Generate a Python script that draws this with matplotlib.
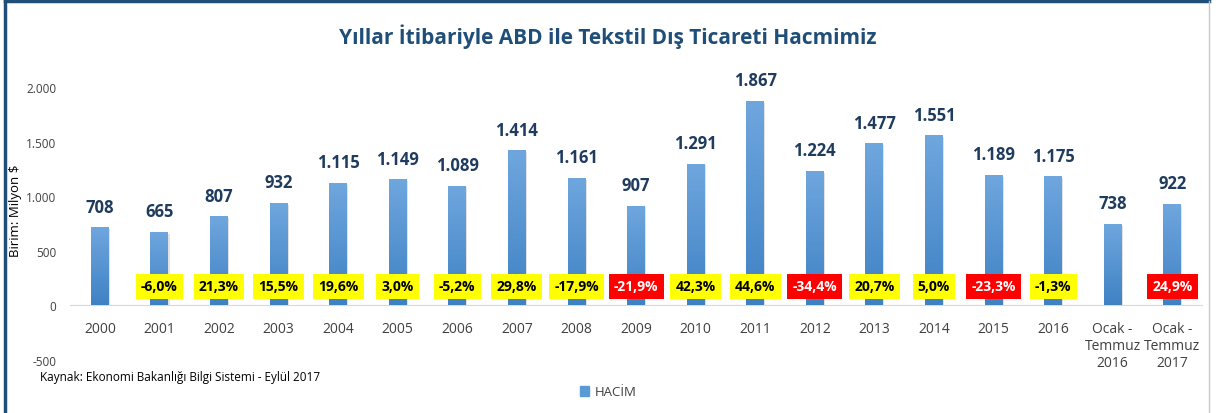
import matplotlib.pyplot as plt
import numpy as np
from matplotlib.patches import Patch
from matplotlib.ticker import FuncFormatter
from matplotlib.lines import Line2D
from matplotlib.colors import LinearSegmentedColormap

# chart data
categories = ["2000", "2001", "2002", "2003", "2004", "2005", "2006", "2007", "2008",
              "2009", "2010", "2011", "2012", "2013", "2014", "2015", "2016",
              "Ocak -\nTemmuz\n2016", "Ocak -\nTemmuz\n2017"]
volume = [708, 665, 807, 932, 1115, 1149, 1089, 1414, 1161, 907, 1291, 1867,
          1224, 1477, 1551, 1189, 1175, 738, 922]
change = [None, -6.0, 21.3, 15.5, 19.6, 3.0, -5.2, 29.8, -17.9, -21.9, 42.3, 44.6,
          -34.4, 20.7, 5.0, -23.3, -1.3, None, 24.9]
red_flags = [False, False, False, False, False, False, False, False, False, True,
             False, False, True, False, False, True, False, False, True]

TITLE = "Yıllar İtibariyle ABD ile Tekstil Dış Ticareti Hacmimiz"
SOURCE = "Kaynak: Ekonomi Bakanlığı Bilgi Sistemi - Eylül 2017"

NAVY = "#1f4e79"
LABEL_BLUE = "#1f3b5e"
GREY_TXT = "#404040"

plt.rcParams['font.family'] = ['Open Sans', 'DejaVu Sans']


def tr_thousands(v, pos):
    return f"{int(v):,}".replace(",", ".")


def tr_pct(v):
    return f"{v:.1f}".replace(".", ",") + "%"


def main():
    fig = plt.figure(figsize=(12.16, 4.14), dpi=100)
    ax = fig.add_axes([0.0576, 0.128, 0.9309, 0.659])

    x = np.arange(len(categories))
    width = 0.3
    # soft shadow behind bars
    ax.bar(x + 0.02, volume, width, bottom=-8, color="#e2e2e2", zorder=1)
    bars = ax.bar(x, volume, width, color="#5b9bd5", zorder=2)

    # vertical gradient on each bar
    grad = np.linspace(0, 1, 100).reshape(-1, 1)
    cmap = LinearSegmentedColormap.from_list("bar", ["#3f82c4", "#6fa6de"])
    for b in bars:
        x0 = b.get_x()
        ax.imshow(grad, extent=[x0, x0 + b.get_width(), 0, b.get_height()],
                  origin="lower", aspect="auto", cmap=cmap, zorder=3)

    for xi, v in zip(x, volume):
        ax.annotate(tr_thousands(v, None), (xi, v), xytext=(0, 9), textcoords="offset points",
                    ha="center", va="bottom", fontsize=12, fontweight="bold",
                    color=LABEL_BLUE, zorder=5, annotation_clip=False)

    for xi, c, red in zip(x, change, red_flags):
        if c is None:
            continue
        ax.text(xi, 175, tr_pct(c), ha="center", va="center", fontsize=10,
                fontweight="bold", color="white" if red else "black", zorder=6,
                bbox=dict(boxstyle="square,pad=0.38", fc="#ff0000" if red else "#ffff00",
                          ec="none"))

    ax.set_xlim(-0.5, len(categories) - 0.5)
    ax.set_ylim(-500, 2000)
    ax.set_yticks([-500, 0, 500, 1000, 1500, 2000])
    ax.yaxis.set_major_formatter(FuncFormatter(tr_thousands))
    ax.set_xticks(x)
    ax.set_xticklabels(categories, linespacing=1.85)
    ax.tick_params(axis="x", length=0, pad=11, labelsize=10, labelcolor=GREY_TXT)
    ax.tick_params(axis="y", length=0, pad=10, labelsize=8.5, labelcolor=GREY_TXT)

    for s in ["top", "right", "left"]:
        ax.spines[s].set_visible(False)
    ax.spines["bottom"].set_position(("data", 0))
    ax.spines["bottom"].set_color("#d9d9d9")
    ax.spines["bottom"].set_zorder(1.5)

    ax.set_ylabel("Birim: Milyon $", fontsize=9.5, color="black", labelpad=2)
    ax.yaxis.set_label_coords(-0.042, 0.55)

    fig.text(0.5, 1 - 37 / 414, TITLE, ha="center", va="center", fontsize=15,
             fontweight="bold", color=NAVY)
    fig.text(40 / 1216, 1 - 378 / 414, SOURCE, ha="left", va="center", fontsize=8.5,
             color="black")

    fig.legend(handles=[Patch(color="#5b9bd5", label="HACİM")], loc="center",
               bbox_to_anchor=(0.5, 1 - 393 / 414), frameon=False, fontsize=9.5,
               handlelength=0.7, handleheight=0.7, handletextpad=0.4,
               labelcolor=GREY_TXT)

    # outer frame like the original slide box
    fig.add_artist(Line2D([5 / 1216, 5 / 1216], [0, 1 - 2 / 414], color=NAVY, lw=2.5))
    fig.add_artist(Line2D([5 / 1216, 1209 / 1216], [1 - 2 / 414, 1 - 2 / 414], color=NAVY, lw=2.5))
    fig.add_artist(Line2D([1209 / 1216, 1209 / 1216], [0, 1 - 2 / 414], color="#c8c8c8", lw=1))

    fig.savefig("out.png", dpi=100)


if __name__ == "__main__":
    main()
